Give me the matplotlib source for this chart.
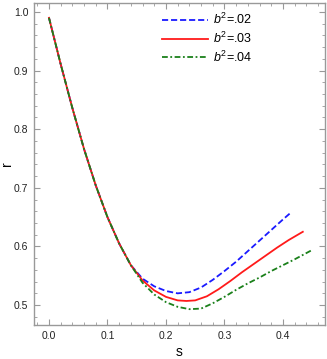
import matplotlib
matplotlib.use("Agg")
import matplotlib.pyplot as plt
from matplotlib.ticker import MultipleLocator, FormatStrFormatter

plt.rcParams['font.family'] = ['Liberation Sans', 'DejaVu Sans']
plt.rcParams['mathtext.fontset'] = 'custom'
plt.rcParams['mathtext.it'] = 'Liberation Sans:italic'
plt.rcParams['mathtext.rm'] = 'Liberation Sans'

# shared early part of all three curves
s_common = [0.0, 0.02, 0.04, 0.06, 0.08, 0.10, 0.12, 0.14]
r_common = [0.99, 0.911, 0.836, 0.766, 0.704, 0.650, 0.605, 0.568]

s_b02 = [0.16, 0.18, 0.20, 0.22, 0.24, 0.26, 0.28, 0.30, 0.32, 0.34, 0.36, 0.38, 0.40, 0.415]
r_b02 = [0.545, 0.532, 0.524, 0.520, 0.522, 0.530, 0.543, 0.558, 0.574, 0.592, 0.610, 0.628, 0.646, 0.659]

s_b03 = [0.16, 0.18, 0.20, 0.22, 0.235, 0.25, 0.27, 0.29, 0.31, 0.33, 0.35, 0.37, 0.39, 0.41, 0.434]
r_b03 = [0.542, 0.525, 0.514, 0.508, 0.507, 0.508, 0.515, 0.527, 0.541, 0.556, 0.570, 0.584, 0.598, 0.611, 0.625]

s_b04 = [0.16, 0.18, 0.20, 0.22, 0.24, 0.26, 0.28, 0.30, 0.32, 0.34, 0.36, 0.38, 0.40, 0.42, 0.45]
r_b04 = [0.538, 0.518, 0.505, 0.497, 0.493, 0.494, 0.503, 0.514, 0.526, 0.537, 0.547, 0.558, 0.568, 0.578, 0.594]

labels = [r'$b^2$=.02', r'$b^2$=.03', r'$b^2$=.04']

fig = plt.figure(figsize=(3.27, 3.59), dpi=100)
ax = fig.add_axes([0.104, 0.0947, 0.890, 0.897])

ax.plot(s_common + s_b02, r_common + r_b02, color='#1a1aff', ls=(0, (3.4, 1.6)), lw=1.3, label=labels[0])
ax.plot(s_common + s_b03, r_common + r_b03, color='#ff1a1a', ls='-', lw=1.3, label=labels[1])
ax.plot(s_common + s_b04, r_common + r_b04, color='#1a801a', ls=(0, (3.2, 1.4, 1, 1.4)), lw=1.3, label=labels[2])

ax.set_xlim(-0.0256, 0.472)
ax.set_ylim(0.466, 1.0153)

ax.xaxis.set_major_locator(MultipleLocator(0.1))
ax.xaxis.set_minor_locator(MultipleLocator(0.02))
ax.yaxis.set_major_locator(MultipleLocator(0.1))
ax.yaxis.set_minor_locator(MultipleLocator(0.02))
ax.xaxis.set_major_formatter(FormatStrFormatter('%.1f'))
ax.yaxis.set_major_formatter(FormatStrFormatter('%.1f'))

for sp in ax.spines.values():
    sp.set_color('#999999')
    sp.set_linewidth(1.0)
ax.tick_params(which='both', direction='in', top=True, right=True, color='#999999', labelsize=7.5, labelcolor='#222222')
ax.tick_params(which='major', length=4, width=0.8, pad=4)
ax.tick_params(which='minor', length=2, width=0.6)

ax.set_xlabel('s', fontsize=10, labelpad=3)
ax.set_ylabel('r', fontsize=10)
ax.yaxis.set_label_coords(-0.068, 0.5)

ax.legend(loc='upper right', bbox_to_anchor=(0.78, 1.0), frameon=False, fontsize=9,
          handlelength=3.7, handletextpad=0.4, labelspacing=0.3, borderaxespad=0.3)

fig.savefig('out.png', dpi=100)
